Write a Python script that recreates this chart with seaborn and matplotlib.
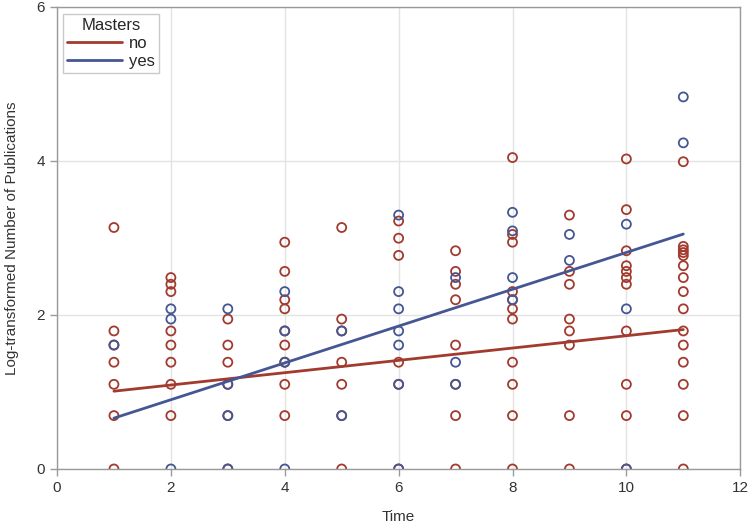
import numpy as np
import pandas as pd
import seaborn as sns
import matplotlib
matplotlib.use("Agg")
import matplotlib.pyplot as plt

# ---- data ----
no_time = ([1]*7 + [2]*8 + [3]*6 + [4]*9 + [5]*7 + [6]*6 + [7]*8 + [8]*11 + [9]*8 + [10]*11 + [11]*15)
no_value = [3.135, 1.792, 1.609, 1.386, 1.099, 0.693, 0.0,
            2.485, 2.398, 2.303, 1.792, 1.609, 1.386, 1.099, 0.693,
            1.946, 1.609, 1.386, 1.099, 0.693, 0.0,
            2.944, 2.565, 2.197, 2.079, 1.792, 1.609, 1.386, 1.099, 0.693,
            3.135, 1.946, 1.792, 1.386, 1.099, 0.693, 0.0,
            3.219, 2.996, 2.773, 1.386, 1.099, 0.0,
            2.833, 2.565, 2.398, 2.197, 1.609, 1.099, 0.693, 0.0,
            4.043, 3.045, 2.944, 2.303, 2.197, 2.079, 1.946, 1.386, 1.099, 0.693, 0.0,
            3.296, 2.565, 2.398, 1.946, 1.792, 1.609, 0.693, 0.0,
            4.025, 3.367, 2.833, 2.639, 2.565, 2.485, 2.398, 1.792, 1.099, 0.693, 0.0,
            3.989, 2.890, 2.845, 2.810, 2.770, 2.639, 2.485, 2.303, 2.079, 1.792, 1.609, 1.099, 0.693, 0.0, 1.386]
no_value = no_value[:len(no_time)]

yes_time = ([1]*1 + [2]*3 + [3]*4 + [4]*4 + [5]*2 + [6]*7 + [7]*3 + [8]*4 + [9]*2 + [10]*3 + [11]*2)
yes_value = [1.609,
             2.079, 1.946, 0.0,
             2.079, 1.099, 0.693, 0.0,
             2.303, 1.792, 1.386, 0.0,
             1.792, 0.693,
             3.296, 2.303, 2.079, 1.792, 1.609, 1.099, 0.0,
             2.485, 1.386, 1.099,
             3.332, 3.091, 2.485, 2.197,
             3.045, 2.708,
             3.178, 2.079, 0.0,
             4.830, 4.234]

# fitted regression lines
fit_time = [1, 11]
fit_no = [1.01, 1.81]
fit_yes = [0.66, 3.05]

groups = ["no", "yes"]
colors = {"no": "#A23A2E", "yes": "#445694"}

pts = pd.DataFrame({
    "Time": no_time + yes_time,
    "Value": no_value + yes_value,
    "Masters": ["no"] * len(no_time) + ["yes"] * len(yes_time),
})
fits = pd.DataFrame({
    "Time": fit_time + fit_time,
    "Value": fit_no + fit_yes,
    "Masters": ["no"] * 2 + ["yes"] * 2,
})

sns.set_theme(style="white")
plt.rcParams["font.family"] = ["Liberation Sans Narrow", "Liberation Sans", "DejaVu Sans"]

fig = plt.figure(figsize=(7.5, 5.24), dpi=100)
ax = fig.add_axes([0.076, 0.105, 0.911, 0.882])

sns.scatterplot(data=pts, x="Time", y="Value", hue="Masters", hue_order=groups,
                palette=colors, ax=ax, legend=False, s=42, clip_on=True,
                facecolors="none", linewidth=1.3, edgecolor=None, marker="o")
coll = ax.collections[0]
ec = [colors[m] for m in pts["Masters"]]
coll.set_edgecolors(ec)
coll.set_facecolors("none")
coll.set_clip_on(True)
coll.set_clip_box(ax.bbox)

sns.lineplot(data=fits, x="Time", y="Value", hue="Masters", hue_order=groups,
             palette=colors, ax=ax, linewidth=2, legend=True)

ax.set_xlim(0, 12)
ax.set_ylim(0, 6)
ax.set_xticks(range(0, 13, 2))
ax.set_yticks(range(0, 7, 2))
ax.grid(True, color="#E3E3E3", linewidth=1)
ax.set_axisbelow(True)
for sp in ax.spines.values():
    sp.set_visible(True)
    sp.set_color("#9A9A9A")
    sp.set_linewidth(1)
    sp.set_zorder(3)
ax.tick_params(axis="both", direction="out", length=5, width=1, color="#9A9A9A",
               labelsize=11, labelcolor="#333333", bottom=True, left=True)
ax.set_xlabel("Time", fontsize=11, color="#333333", labelpad=11)
ax.set_ylabel("Log-transformed Number of Publications", fontsize=11, color="#333333", labelpad=13)

leg = ax.legend(title="Masters", loc="upper left", bbox_to_anchor=(0.0088, 0.985),
                borderaxespad=0, frameon=True, fancybox=False, fontsize=12, title_fontsize=12,
                handlelength=3.3, borderpad=0.25, labelspacing=0.18, handletextpad=0.4)
leg.get_frame().set_edgecolor("#BDBDBD")
leg.get_frame().set_linewidth(1)
for h in leg.get_lines():
    h.set_linewidth(2)

fig.savefig("out.png", dpi=100)
